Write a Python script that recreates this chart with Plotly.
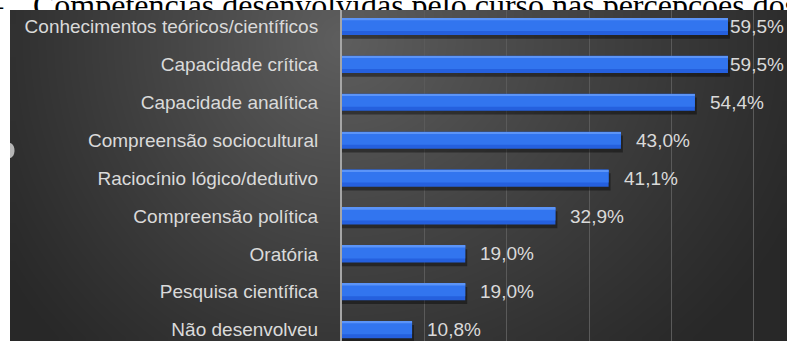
import numpy as np
import plotly.graph_objects as go

# ---- data ----
categories = [
    "Conhecimentos teóricos/científicos",
    "Capacidade crítica",
    "Capacidade analítica",
    "Compreensão sociocultural",
    "Raciocínio lógico/dedutivo",
    "Compreensão política",
    "Oratória",
    "Pesquisa científica",
    "Não desenvolveu",
]
values = [59.5, 59.5, 54.4, 43.0, 41.1, 32.9, 19.0, 19.0, 10.8]
title_prefix = "1 –"
title_text = "Competências desenvolvidas pelo curso nas percepções dos discentes"

value_labels = [f"{v:.1f}".replace(".", ",") + "%" for v in values]

# ---- page geometry (pixels) ----
W, H = 787, 341
panel_left, panel_top = 10, 10
axis_zero_px = 342
x_max = 68.6          # value reached at the right edge of the panel
grid_step = 12.7
row_px = 37.9          # distance between bar centres
first_row_px = 26.5    # centre of first bar from the top of the page

SANS = "Liberation Sans, Arial, sans-serif"
SERIF = "Liberation Serif, Times New Roman, serif"
TXT = "#dadada"
FS = 19
caption_y = 8
caption_size = 32

fig = go.Figure()

# caption line above the panel (partly hidden by the panel)
fig.add_trace(go.Scatter(
    x=[33], y=[caption_y], mode="text", text=[title_text],
    textposition="middle right", cliponaxis=False,
    textfont=dict(family=SERIF, size=caption_size, color="#000000"),
    hoverinfo="skip", showlegend=False, xaxis="x", yaxis="y",
))
fig.add_trace(go.Scatter(
    x=[3], y=[caption_y], mode="text", text=[title_prefix],
    textposition="middle left", cliponaxis=False,
    textfont=dict(family=SERIF, size=caption_size, color="#000000"),
    hoverinfo="skip", showlegend=False, xaxis="x", yaxis="y",
))

# dark radial-gradient panel
nx, ny = 80, 40
xe = np.linspace(panel_left, W, nx + 1)
ye = np.linspace(panel_top, H, ny + 1)
xc = (xe[:-1] + xe[1:]) / 2
yc = (ye[:-1] + ye[1:]) / 2
XX, YY = np.meshgrid(xc, yc)
cx, cy = 340.0, 40.0
rx = np.where(XX < cx, 400.0, 500.0)
ry = 430.0
d = np.sqrt(((XX - cx) / rx) ** 2 + ((YY - cy) / ry) ** 2)
shade = 40 + 54 * (1 - np.clip(d, 0, 1)) ** 1.1
fig.add_trace(go.Heatmap(
    x=xe, y=ye, z=shade, zmin=0, zmax=255, zsmooth="best",
    colorscale=[[0, "rgb(0,0,0)"], [1, "rgb(255,255,255)"]],
    showscale=False, hoverinfo="skip", xaxis="x2", yaxis="y2",
))

# bars: drop shadow, body, lighter upper part, top highlight
rows = np.arange(len(categories))
vals = np.array(values)
bar_w = 0.45
fig.add_trace(go.Bar(
    x=vals + 0.3, y=rows + 0.1, width=bar_w, orientation="h",
    marker=dict(color="rgba(0,0,0,0.40)", line=dict(width=0)),
    hoverinfo="skip", showlegend=False, xaxis="x3", yaxis="y3",
))
fig.add_trace(go.Bar(
    x=vals, y=rows, width=bar_w, orientation="h",
    marker=dict(color="#2560de", line=dict(width=0)),
    hoverinfo="skip", showlegend=False, xaxis="x3", yaxis="y3",
))
fig.add_trace(go.Bar(
    x=vals, y=rows - 0.05, width=bar_w * 0.75, orientation="h",
    marker=dict(color="#3275ef", line=dict(width=0)),
    hoverinfo="skip", showlegend=False, xaxis="x3", yaxis="y3",
))
fig.add_trace(go.Bar(
    x=vals, y=rows - 0.19, width=bar_w * 0.1, orientation="h",
    marker=dict(color="#5b94f8", line=dict(width=0)),
    hoverinfo="skip", showlegend=False, xaxis="x3", yaxis="y3",
))

# value labels
plot_w_px = W - axis_zero_px
ppu = plot_w_px / x_max
gap_px = 13
annotations = []
for i, (v, lab) in enumerate(zip(values, value_labels)):
    est_w = 0.56 * FS * len(lab)
    if v * ppu + gap_px + est_w <= plot_w_px:
        annotations.append(dict(
            x=v, y=i, xref="x3", yref="y3", text=lab, showarrow=False,
            xanchor="left", yanchor="middle", xshift=gap_px,
            font=dict(family=SANS, size=FS, color=TXT),
        ))
    else:
        annotations.append(dict(
            x=x_max, y=i, xref="x3", yref="y3", text=lab, showarrow=False,
            xanchor="right", yanchor="middle", xshift=-1,
            font=dict(family=SANS, size=FS, color=TXT),
        ))

# small light mark at the left edge of the panel
shapes = [dict(
    type="path", xref="x", yref="y", layer="above",
    path="M 10,143 C 16,144 16,157 10,158 Z",
    fillcolor="rgba(205,205,205,0.85)", line=dict(width=0),
)]

plot_top_frac = 1 - panel_top / H
y_lo = -(first_row_px - panel_top) / row_px
y_hi = y_lo + (H - panel_top) / row_px

hidden = dict(visible=False, fixedrange=True)
fig.update_layout(
    width=W, height=H,
    margin=dict(l=0, r=0, t=0, b=0),
    paper_bgcolor="#ffffff",
    plot_bgcolor="rgba(0,0,0,0)",
    barmode="overlay",
    showlegend=False,
    xaxis=dict(domain=[0, 1], range=[0, W], **hidden),
    yaxis=dict(domain=[0, 1], range=[H, 0], **hidden),
    xaxis2=dict(domain=[0, 1], range=[0, W], anchor="y2", **hidden),
    yaxis2=dict(domain=[0, 1], range=[H, 0], anchor="x2", **hidden),
    xaxis3=dict(
        domain=[axis_zero_px / W, 1], range=[0, x_max], anchor="y3",
        tick0=0, dtick=grid_step, showticklabels=False, ticks="",
        showgrid=True, gridcolor="#5a5a5a", gridwidth=1,
        zeroline=False, showline=False, fixedrange=True,
    ),
    yaxis3=dict(
        domain=[0, plot_top_frac], range=[y_hi, y_lo], anchor="x3",
        tickmode="array", tickvals=rows.tolist(), ticktext=categories,
        ticks="", ticklabelstandoff=18,
        tickfont=dict(family=SANS, size=FS, color=TXT),
        showgrid=False, zeroline=False,
        showline=True, linecolor="#a6a6a6", linewidth=2, fixedrange=True,
    ),
    annotations=annotations,
    shapes=shapes,
)

fig.write_html("out.html")
